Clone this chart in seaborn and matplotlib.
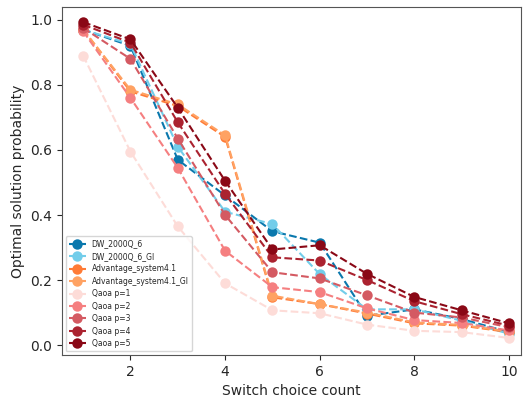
import pandas as pd
import matplotlib
matplotlib.use("Agg")
import matplotlib.pyplot as plt
import seaborn as sns

switch_counts = [1, 2, 3, 4, 5, 6, 7, 8, 9, 10]

dw_2000q_6 = [0.97, 0.92, 0.57, 0.46, 0.35, 0.315, 0.09, 0.11, 0.08, 0.04]
dw_2000q_6_gi = [0.97, 0.925, 0.61, 0.41, 0.372, 0.218, 0.11, 0.11, 0.075, 0.035]
advantage = [0.97, 0.78, 0.735, 0.64, 0.147, 0.126, 0.097, 0.067, 0.06, 0.04]
advantage_gi = [0.97, 0.785, 0.74, 0.645, 0.152, 0.126, 0.1, 0.07, 0.062, 0.042]
qaoa_p1 = [0.89, 0.595, 0.365, 0.19, 0.107, 0.098, 0.063, 0.044, 0.04, 0.022]
qaoa_p2 = [0.965, 0.76, 0.545, 0.29, 0.178, 0.163, 0.113, 0.077, 0.068, 0.045]
qaoa_p3 = [0.975, 0.88, 0.635, 0.40, 0.224, 0.205, 0.153, 0.1, 0.085, 0.055]
qaoa_p4 = [0.985, 0.93, 0.685, 0.465, 0.27, 0.26, 0.2, 0.135, 0.095, 0.06]
qaoa_p5 = [0.993, 0.94, 0.73, 0.505, 0.294, 0.307, 0.219, 0.148, 0.107, 0.067]

series_names = ["DW_2000Q_6", "DW_2000Q_6_GI", "Advantage_system4.1",
                "Advantage_system4.1_GI", "Qaoa p=1", "Qaoa p=2",
                "Qaoa p=3", "Qaoa p=4", "Qaoa p=5"]
series_values = [dw_2000q_6, dw_2000q_6_gi, advantage, advantage_gi,
                 qaoa_p1, qaoa_p2, qaoa_p3, qaoa_p4, qaoa_p5]
colors = ["#0a78ad", "#72cdea", "#ff7b36", "#ffa263", "#fddcd8",
          "#f57f80", "#d45a62", "#ab2330", "#8a0816"]

sns.set_style("ticks")

fig = plt.figure(figsize=(5.24, 4.01), dpi=100)
ax = fig.add_axes([0.118, 0.115, 0.876, 0.868])

for name, vals, col in zip(series_names, series_values, colors):
    df = pd.DataFrame({"count": switch_counts, "prob": vals})
    sns.lineplot(data=df, x="count", y="prob", ax=ax, color=col, label=name,
                 linestyle="--", marker="o", markersize=7.5,
                 markeredgewidth=0, linewidth=1.5)

ax.set_xlabel("Switch choice count", fontsize=10)
ax.set_ylabel("Optimal solution probability", fontsize=10)
ax.set_xticks([2, 4, 6, 8, 10])
ax.set_yticks([0.0, 0.2, 0.4, 0.6, 0.8, 1.0])
ax.set_xlim(0.55, 10.25)
ax.set_ylim(-0.03, 1.04)
ax.tick_params(labelsize=10, length=3.5)
for s in ax.spines.values():
    s.set_color("#555555")
ax.legend(loc="lower left", fontsize=5.5, frameon=True, markerscale=1.0,
          handlelength=2.2, labelspacing=0.45)

fig.savefig("out.png", dpi=100)
plt.close(fig)
